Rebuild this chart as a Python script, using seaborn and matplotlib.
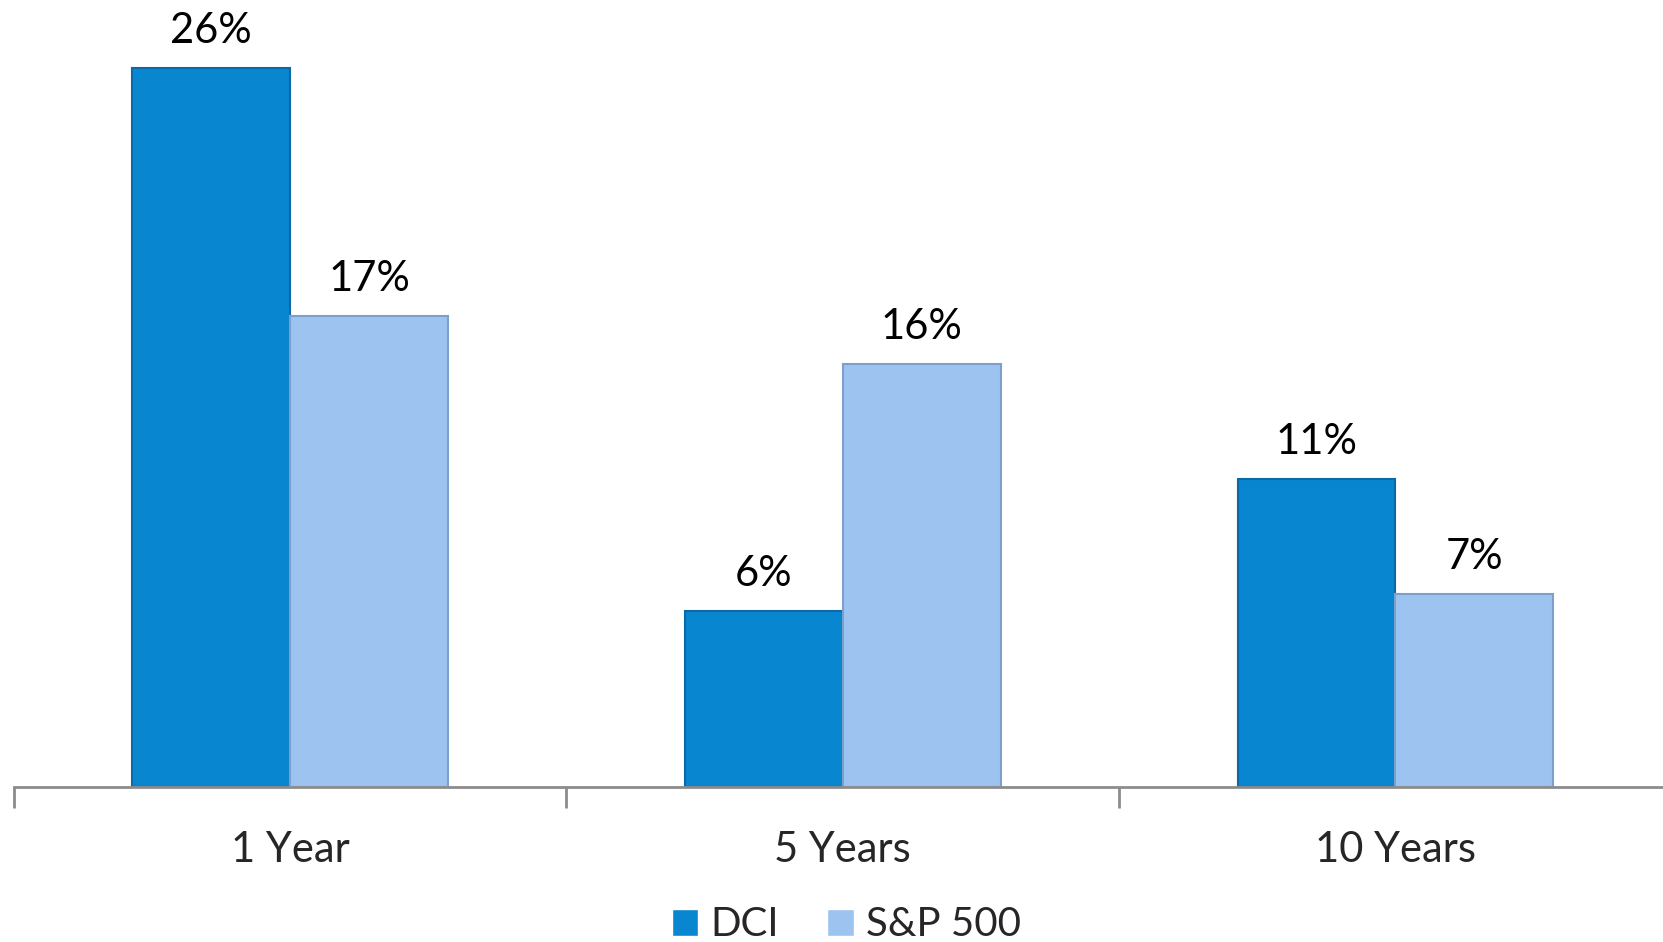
import matplotlib
matplotlib.use("Agg")
import matplotlib.pyplot as plt
import seaborn as sns
import pandas as pd

periods = ["1 Year", "5 Years", "10 Years"]
series = ["DCI", "S&P 500"]
dci_values = [26.4, 6.46, 11.3]
sp500_values = [17.3, 15.53, 7.1]

df = pd.DataFrame({
    "period": periods * 2,
    "series": [series[0]] * 3 + [series[1]] * 3,
    "value": dci_values + sp500_values,
})

sns.set_style("white")
plt.rcParams["font.family"] = ["Lato", "DejaVu Sans"]

fig = plt.figure(figsize=(16.63, 9.42), dpi=100)
ax = fig.add_axes([13.8 / 1663, (942 - 787) / 942, 1658 / 1663, 787 / 942])

palette = {"DCI": "#0886D0", "S&P 500": "#9DC3F0"}
edges = {"DCI": "#0B6AA6", "S&P 500": "#7C9FCB"}
sns.barplot(data=df, x="period", y="value", hue="series", order=periods,
            hue_order=series, palette=palette, width=0.571, ax=ax,
            saturation=1, legend=True)

for cont, name in zip(ax.containers, series):
    for p in cont:
        p.set_edgecolor(edges[name])
        p.set_linewidth(1.5)
    ax.bar_label(cont, labels=[f"{v:.0f}%" for v in cont.datavalues],
                 padding=13, fontsize=30, color="black")

ax.set_xlim(-0.5, 2.5)
ax.set_ylim(0, 28.9)
ax.set_yticks([])
ax.set_xlabel("")
ax.set_ylabel("")
for s in ["top", "right", "left"]:
    ax.spines[s].set_visible(False)
ax.spines["bottom"].set_color("#8C8C8C")
ax.spines["bottom"].set_linewidth(2)

ax.set_xticks([-0.5, 0.5, 1.5, 2.5])
ax.set_xticklabels([])
ax.tick_params(axis="x", which="major", length=15, width=2, color="#8C8C8C",
               direction="out", bottom=True)
ax.set_xticks([0, 1, 2], minor=True)
ax.set_xticklabels(periods, minor=True, fontsize=30)
ax.tick_params(axis="x", which="minor", length=0, pad=32)

handles, labels = ax.get_legend_handles_labels()
ax.get_legend().remove()
fig.legend(handles, labels, loc="lower center", bbox_to_anchor=(0.509, -0.04),
           ncol=2, frameon=False, fontsize=29, handlelength=0.65,
           handleheight=0.65, handletextpad=0.3, columnspacing=1.2)

fig.savefig("out.png", dpi=100)
